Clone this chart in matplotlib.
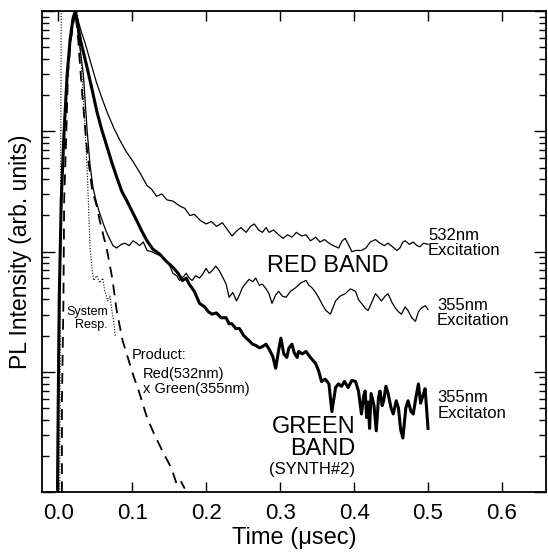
import matplotlib
matplotlib.use("Agg")
import matplotlib.pyplot as plt
from matplotlib.ticker import LogLocator, NullFormatter
import numpy as np

plt.rcParams['font.family'] = ['Liberation Sans', 'DejaVu Sans']

# shared fast rise of the PL traces (time in usec, log10 intensity)
rise_t = [-0.001, 0.000, 0.0013, 0.004, 0.008, 0.012, 0.016, 0.020]
rise_log = [-4.0, -3.24, -2.41, -1.58, -0.99, -0.53, -0.24, -0.06]

# red band, 532nm excitation (thin)
red532_t = [0.023, 0.027, 0.031, 0.036, 0.043, 0.052, 0.060, 0.066, 0.075, 0.083,
            0.092, 0.101, 0.110, 0.120, 0.126, 0.133, 0.140, 0.147, 0.155, 0.164,
            0.171, 0.178, 0.184, 0.192, 0.200, 0.207, 0.214, 0.222, 0.229, 0.235,
            0.241, 0.247, 0.254, 0.260, 0.265, 0.271, 0.276, 0.281, 0.285, 0.291,
            0.298, 0.304, 0.310, 0.316, 0.322, 0.329, 0.335, 0.341, 0.348, 0.354,
            0.360, 0.366, 0.372, 0.379, 0.384, 0.388, 0.393, 0.397, 0.403, 0.410,
            0.416, 0.422, 0.429, 0.435, 0.441, 0.446, 0.452, 0.458, 0.462, 0.466,
            0.469, 0.475, 0.480, 0.485, 0.489, 0.494, 0.500]
red532_log = [0.0, -0.08, -0.17, -0.26, -0.41, -0.60, -0.74, -0.84, -0.97, -1.07,
              -1.17, -1.25, -1.34, -1.45, -1.48, -1.54, -1.52, -1.57, -1.58, -1.62,
              -1.64, -1.70, -1.69, -1.74, -1.77, -1.75, -1.79, -1.76, -1.82, -1.87,
              -1.83, -1.80, -1.84, -1.79, -1.77, -1.82, -1.84, -1.80, -1.84, -1.82,
              -1.86, -1.89, -1.86, -1.88, -1.84, -1.87, -1.86, -1.91, -1.88, -1.92,
              -1.90, -1.93, -1.95, -1.97, -1.91, -1.89, -1.95, -2.00, -1.99, -1.99,
              -1.97, -1.92, -1.90, -1.93, -1.95, -1.93, -1.96, -1.99, -1.97, -1.92,
              -1.91, -1.94, -1.92, -1.95, -1.96, -1.93, -1.94]

# red band, 355nm excitation (thin)
red355_t = [0.023, 0.028, 0.034, 0.039, 0.043, 0.047, 0.052, 0.056, 0.061, 0.066,
            0.070, 0.074, 0.079, 0.085, 0.090, 0.096, 0.101, 0.106, 0.110, 0.115,
            0.120, 0.126, 0.133, 0.140, 0.147, 0.151, 0.155, 0.160, 0.164, 0.169,
            0.173, 0.177, 0.181, 0.186, 0.191, 0.195, 0.200, 0.204, 0.208, 0.213,
            0.218, 0.223, 0.227, 0.231, 0.236, 0.241, 0.245, 0.249, 0.254, 0.258,
            0.263, 0.267, 0.272, 0.276, 0.281, 0.285, 0.289, 0.294, 0.298, 0.303,
            0.308, 0.314, 0.321, 0.328, 0.335, 0.339, 0.343, 0.348, 0.352, 0.357,
            0.362, 0.368, 0.375, 0.381, 0.388, 0.395, 0.402, 0.406, 0.410, 0.415,
            0.419, 0.424, 0.429, 0.433, 0.437, 0.442, 0.446, 0.451, 0.456, 0.460,
            0.464, 0.469, 0.473, 0.478, 0.483, 0.487, 0.491, 0.496, 0.500]
red355_log = [0.0, -0.24, -0.53, -0.99, -1.28, -1.47, -1.60, -1.68, -1.77, -1.85,
              -1.90, -1.95, -1.97, -1.94, -1.93, -1.95, -1.91, -1.93, -1.95, -1.92,
              -1.99, -2.00, -2.02, -2.04, -2.08, -2.12, -2.18, -2.20, -2.24, -2.21,
              -2.18, -2.22, -2.24, -2.20, -2.22, -2.19, -2.14, -2.18, -2.16, -2.12,
              -2.16, -2.22, -2.27, -2.38, -2.34, -2.41, -2.36, -2.30, -2.26, -2.23,
              -2.25, -2.22, -2.28, -2.27, -2.31, -2.35, -2.43, -2.36, -2.33, -2.37,
              -2.38, -2.33, -2.30, -2.26, -2.24, -2.28, -2.30, -2.34, -2.38, -2.44,
              -2.49, -2.52, -2.41, -2.37, -2.35, -2.31, -2.33, -2.40, -2.43, -2.47,
              -2.49, -2.42, -2.35, -2.38, -2.41, -2.37, -2.35, -2.42, -2.47, -2.50,
              -2.52, -2.46, -2.49, -2.55, -2.58, -2.50, -2.47, -2.45, -2.48]

# green band (SYNTH#2), 355nm excitation (thick)
green_t = [0.023, 0.030, 0.039, 0.046, 0.052, 0.059, 0.066, 0.073, 0.079, 0.086,
           0.093, 0.101, 0.106, 0.113, 0.120, 0.128, 0.137, 0.146, 0.155, 0.162,
           0.168, 0.173, 0.177, 0.184, 0.191, 0.198, 0.203, 0.208, 0.214, 0.220,
           0.227, 0.231, 0.235, 0.240, 0.245, 0.251, 0.258, 0.263, 0.267, 0.272,
           0.276, 0.281, 0.285, 0.290, 0.294, 0.298, 0.301, 0.305, 0.309, 0.312,
           0.316, 0.319, 0.323, 0.325, 0.330, 0.335, 0.341, 0.348, 0.352, 0.356,
           0.361, 0.366, 0.370, 0.375, 0.379, 0.383, 0.387, 0.392, 0.397, 0.402,
           0.406, 0.410, 0.413, 0.415, 0.417, 0.419, 0.421, 0.423, 0.427, 0.430,
           0.433, 0.435, 0.438, 0.440, 0.443, 0.446, 0.450, 0.453, 0.457, 0.460,
           0.463, 0.466, 0.470, 0.473, 0.477, 0.480, 0.484, 0.487, 0.490, 0.493,
           0.496, 0.498, 0.500]
green_log = [0.0, -0.24, -0.47, -0.66, -0.83, -0.99, -1.13, -1.27, -1.38, -1.50,
             -1.58, -1.68, -1.74, -1.83, -1.91, -1.98, -2.02, -2.08, -2.13, -2.18,
             -2.24, -2.22, -2.27, -2.33, -2.43, -2.46, -2.50, -2.52, -2.51, -2.55,
             -2.55, -2.60, -2.60, -2.64, -2.64, -2.70, -2.74, -2.77, -2.78, -2.80,
             -2.79, -2.77, -2.81, -2.87, -2.97, -2.82, -2.72, -2.85, -2.88, -2.80,
             -2.77, -2.84, -2.88, -2.83, -2.85, -2.83, -2.88, -2.93, -2.99, -3.08,
             -3.06, -3.10, -3.33, -3.13, -3.10, -3.12, -3.08, -3.13, -3.07, -3.08,
             -3.16, -3.35, -3.20, -3.16, -3.38, -3.25, -3.47, -3.18, -3.28, -3.49,
             -3.22, -3.16, -3.28, -3.24, -3.12, -3.18, -3.30, -3.35, -3.24, -3.30,
             -3.48, -3.55, -3.30, -3.24, -3.33, -3.35, -3.20, -3.10, -3.26, -3.20,
             -3.14, -3.30, -3.47]

# product Red(532nm) x Green(355nm) (dashed)
prod_t = [0.005, 0.005, 0.007, 0.008, 0.011, 0.013, 0.017, 0.023, 0.027, 0.032,
          0.039, 0.046, 0.052, 0.056, 0.066, 0.073, 0.079, 0.087, 0.094, 0.101,
          0.110, 0.120, 0.130, 0.141, 0.153, 0.160, 0.165, 0.171]
prod_log = [-4.0, -3.24, -2.41, -1.58, -0.99, -0.53, -0.24, 0.0, -0.24, -0.66,
            -1.16, -1.49, -1.62, -1.74, -1.99, -2.22, -2.49, -2.74, -2.88, -3.02,
            -3.18, -3.38, -3.52, -3.66, -3.80, -3.93, -3.90, -3.97]

# system response (dotted)
sys_t = [0.002, 0.003, 0.004, 0.023, 0.026, 0.030, 0.034, 0.039, 0.043, 0.046,
         0.048, 0.052, 0.056, 0.060, 0.063, 0.067, 0.070, 0.073, 0.075, 0.077]
sys_log = [-4.0, -2.0, 0.0, 0.0, -0.02, -0.33, -0.74, -1.30, -1.97, -2.16,
           -2.24, -2.20, -2.26, -2.22, -2.33, -2.41, -2.37, -2.51, -2.58, -2.70]

xticks = [0.0, 0.1, 0.2, 0.3, 0.4, 0.5, 0.6]

fig = plt.figure(figsize=(5.48, 5.53), dpi=100)
ax = fig.add_axes([0.0766, 0.110, 0.9204, 0.870])


def trace(t, lg, with_rise=True):
    if with_rise:
        t = rise_t + t
        lg = rise_log + lg
    return np.array(t), 10.0 ** np.array(lg)


x, y = trace(sys_t, sys_log, with_rise=False)
ax.plot(x, y, color="black", lw=0.8, ls=(0, (1, 1.5)))
x, y = trace(prod_t, prod_log, with_rise=False)
ax.plot(x, y, color="black", lw=1.3, ls=(0, (6, 4)))
x, y = trace(red532_t, red532_log)
ax.plot(x, y, color="black", lw=0.9)
x, y = trace(red355_t, red355_log)
ax.plot(x, y, color="black", lw=0.9)
x, y = trace(green_t, green_log)
ax.plot(x, y, color="black", lw=2.2)

ax.set_yscale("log")
ax.set_xlim(-0.022, 0.66)
ax.set_ylim(1e-4, 1.0)
ax.set_xticks(xticks)
ax.set_xticklabels([f"{v:.1f}" for v in xticks], fontsize=16)
ax.yaxis.set_major_locator(LogLocator(base=10, numticks=10))
ax.yaxis.set_minor_locator(LogLocator(base=10, subs=np.arange(2, 10), numticks=50))
ax.yaxis.set_major_formatter(NullFormatter())
ax.yaxis.set_minor_formatter(NullFormatter())
ax.tick_params(which="both", direction="in", top=True, right=True, width=1.0)
ax.tick_params(axis="x", which="major", length=7, pad=8)
ax.tick_params(axis="y", which="major", length=9)
ax.tick_params(axis="y", which="minor", length=5)
for s in ax.spines.values():
    s.set_linewidth(1.3)

ax.set_xlabel("Time (μsec)", fontsize=17, labelpad=2)
ax.set_ylabel("PL Intensity (arb. units)", fontsize=16.5, labelpad=4)

ax.text(0.500, 10 ** -1.93, "532nm\nExcitation", fontsize=12, va="center", ha="left", linespacing=1.05)
ax.text(0.512, 10 ** -2.51, "355nm\nExcitation", fontsize=12, va="center", ha="left", linespacing=1.05)
ax.text(0.513, 10 ** -3.28, "355nm\nExcitaton", fontsize=12, va="center", ha="left", linespacing=1.05)
ax.text(0.365, 10 ** -2.12, "RED BAND", fontsize=17, va="center", ha="center")
ax.text(0.402, 10 ** -3.55, "GREEN\nBAND", fontsize=17, va="center", ha="right", linespacing=0.95)
ax.text(0.402, 10 ** -3.81, "(SYNTH#2)", fontsize=12, va="center", ha="right")
ax.text(0.067, 10 ** -2.555, "System\nResp.", fontsize=9, va="center", ha="right", linespacing=1.1)
ax.text(0.0995, 10 ** -2.86, "Product:", fontsize=10.5, va="center", ha="left")
ax.text(0.114, 10 ** -3.02, "Red(532nm)", fontsize=10.5, va="center", ha="left")
ax.text(0.114, 10 ** -3.14, "x Green(355nm)", fontsize=10.5, va="center", ha="left")

fig.savefig("out.png", dpi=100)
